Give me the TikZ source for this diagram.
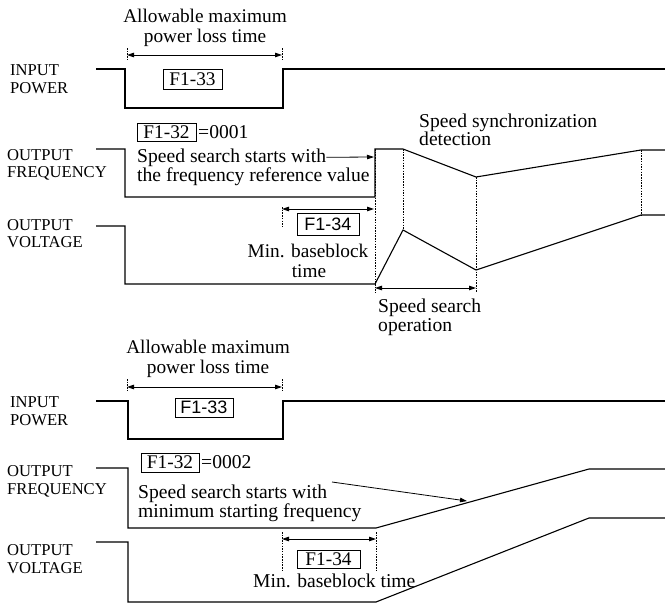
\documentclass[tikz,border=0pt]{standalone}
\usepackage{fontspec}
\setmainfont{Liberation Serif}
\newfontfamily\sansf{Liberation Sans}
\usetikzlibrary{arrows.meta}
\begin{document}
\begin{tikzpicture}[x=1pt,y=-1pt,
 sig/.style={line width=1.1pt, line join=miter},
 tick/.style={line width=0.6pt, dash pattern=on 1.5pt off 1.2pt},
 dim/.style={line width=0.9pt, {Triangle[length=7pt,width=4.5pt]}-{Triangle[length=7pt,width=4.5pt]}},
 ptr/.style={line width=0.8pt, -{Triangle[length=7pt,width=4.5pt]}},
 lbl/.style={font=\fontsize{16.6}{18}\selectfont, inner sep=0, anchor=base west},
 txt/.style={font=\fontsize{19.6}{21}\selectfont, inner sep=0, anchor=base west},
 ctxt/.style={font=\fontsize{19.3}{21}\selectfont, inner sep=0, anchor=base},
 pbox/.style={draw, line width=0.7pt, inner sep=0, font=\fontsize{19.3}{21}\selectfont},
 sbox/.style={pbox, font=\sansf\fontsize{18}{20}\selectfont},
]
\useasboundingbox (0,0) rectangle (665,603);

% ================= TOP SECTION =================
\node[ctxt] (a1) at (205,22) {Allowable maximum};
\node[ctxt] (a2) at (205,42) {power loss time};
\coordinate (d1a) at (127,48); \coordinate (d1b) at (127,61);
\coordinate (d2a) at (282,48); \coordinate (d2b) at (282,61);
\draw[tick] (d1a) -- (d1b);
\draw[tick] (d2a) -- (d2b);
\coordinate (p1l) at (127,55); \coordinate (p1r) at (282,55);
\draw[dim] (p1l) -- (p1r);

\node[lbl] (ip1) at (10,75) {INPUT};
\node[lbl] (ip2) at (10,93) {POWER};
\draw[sig] (96,69) -- (125,69) -- (125,108) -- (283,108) -- (283,69) -- (665,69);
\node[pbox, minimum width=59, minimum height=20] (f33a) at (192.5,79) {F1-33};

\node[pbox, minimum width=59, minimum height=18] (f32a) at (166.5,132) {F1-32};
\node[txt] (eq1) at (198,138) {=0001};
\node[txt] (s1) at (137,162) {Speed search starts with};
\node[txt] (s2) at (137,181) {the frequency reference value};
\coordinate (s1t) at (374,157);
\draw[ptr] (s1.east) -- (s1t);

\node[lbl] (of1) at (7,160) {OUTPUT};
\node[lbl] (of2) at (7,177) {FREQUENCY};
\draw[sig] (96,149) -- (125,149) -- (125,197) -- (375,197) -- (375,149) -- (403,149) -- (476,177) -- (641,150) -- (665,150);

\node[lbl] (ov1) at (7,230) {OUTPUT};
\node[lbl] (ov2) at (7,247) {VOLTAGE};
\draw[sig] (96,226) -- (125,226) -- (125,284) -- (375,284) -- (403,230) -- (476,270) -- (641,215) -- (665,215);

% dotted verticals
\coordinate (v1a) at (375,149); \coordinate (v1b) at (375,293);
\coordinate (v2a) at (403,149); \coordinate (v2b) at (403,230);
\coordinate (v3a) at (476,177); \coordinate (v3b) at (476,292);
\coordinate (v4a) at (641,150); \coordinate (v4b) at (641,215);
\coordinate (v5a) at (282,207); \coordinate (v5b) at (282,227);
\draw[tick] (v1a) -- (v1b);
\draw[tick] (v2a) -- (v2b);
\draw[tick] (v3a) -- (v3b);
\draw[tick] (v4a) -- (v4b);
\draw[tick] (v5a) -- (v5b);

\coordinate (b1l) at (282,209); \coordinate (b1r) at (374,209);
\draw[dim] (b1l) -- (b1r);
\node[sbox, minimum width=62, minimum height=22] (f34a) at (328,224) {F1-34};
\node[ctxt] (mb1) at (308,257) {Min. baseblock};
\node[ctxt] (mb2) at (309,277) {time};

\coordinate (ss1) at (375,288); \coordinate (ss2) at (476,288);
\draw[dim] (ss1) -- (ss2);
\node[txt] (so1) at (378,312) {Speed search};
\node[txt] (so2) at (378,331) {operation};
\node[txt] (sy1) at (419,127) {Speed synchronization};
\node[txt] (sy2) at (419,145) {detection};

% ================= BOTTOM SECTION =================
\node[ctxt] (c1) at (208,353) {Allowable maximum};
\node[ctxt] (c2) at (208,373) {power loss time};
\coordinate (e1a) at (127,379); \coordinate (e1b) at (127,392);
\coordinate (e2a) at (282,379); \coordinate (e2b) at (282,392);
\draw[tick] (e1a) -- (e1b);
\draw[tick] (e2a) -- (e2b);
\coordinate (q1l) at (127,387); \coordinate (q1r) at (282,387);
\draw[dim] (q1l) -- (q1r);

\node[lbl] (jp1) at (10,407) {INPUT};
\node[lbl] (jp2) at (10,425) {POWER};
\draw[sig] (96,401) -- (128,401) -- (128,439) -- (283,439) -- (283,401) -- (665,401);
\node[sbox, minimum width=58, minimum height=19] (f33b) at (204,407.5) {F1-33};

\node[pbox, minimum width=58, minimum height=19] (f32b) at (170,462.5) {F1-32};
\node[txt] (eq2) at (201,468) {=0002};
\node[txt] (t1) at (138,498) {Speed search starts with};
\node[txt] (t2) at (138,517) {minimum starting frequency};
\coordinate (t1s) at (332,482); \coordinate (t1t) at (467,501);
\draw[ptr] (t1s) -- (t1t);

\node[lbl] (pf1) at (7,476) {OUTPUT};
\node[lbl] (pf2) at (7,494) {FREQUENCY};
\draw[sig] (96,468) -- (128,468) -- (128,528) -- (376,528) -- (589,469) -- (665,469);

\node[lbl] (pv1) at (7,555) {OUTPUT};
\node[lbl] (pv2) at (7,573) {VOLTAGE};
\draw[sig] (96,542) -- (128,542) -- (128,602) -- (376,602) -- (589,518) -- (665,518);

\coordinate (w1a) at (282,532); \coordinate (w1b) at (282,572);
\coordinate (w2a) at (376,532); \coordinate (w2b) at (376,572);
\draw[tick] (w1a) -- (w1b);
\draw[tick] (w2a) -- (w2b);
\coordinate (r1l) at (282,539); \coordinate (r1r) at (376,539);
\draw[dim] (r1l) -- (r1r);
\node[pbox, minimum width=63, minimum height=18] (f34b) at (328.5,559) {F1-34};
\node[txt] (mb3) at (253,587) {Min. baseblock time};
\end{tikzpicture}
\end{document}
